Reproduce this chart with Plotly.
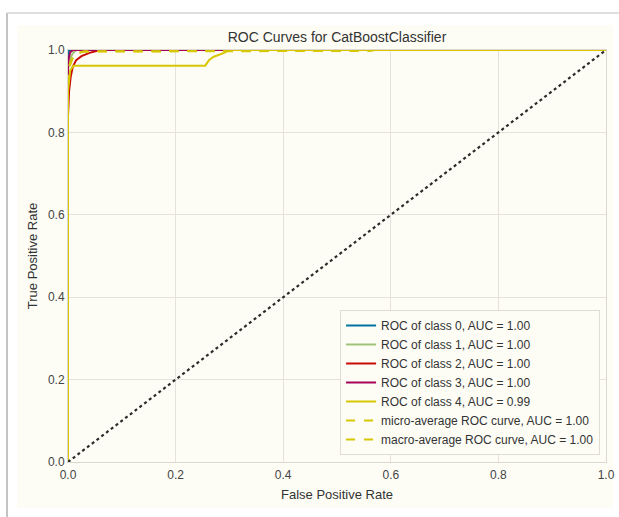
import plotly.graph_objects as go

# ---- data ----
fpr_class0 = [0.0, 0.0, 0.002, 1.0]
tpr_class0 = [0.0, 0.99, 1.0, 1.0]

fpr_class1 = [0.0, 0.0, 0.003, 0.008, 0.015, 1.0]
tpr_class1 = [0.0, 0.95, 0.975, 0.99, 1.0, 1.0]

fpr_class2 = [0.0, 0.0, 0.002, 0.005, 0.009, 0.015, 0.025, 0.04, 0.06, 1.0]
tpr_class2 = [0.0, 0.84, 0.90, 0.935, 0.96, 0.975, 0.985, 0.993, 1.0, 1.0]

fpr_class3 = [0.0, 0.0, 0.004, 0.01, 1.0]
tpr_class3 = [0.0, 0.97, 0.995, 1.0, 1.0]

fpr_class4 = [0.0, 0.0, 0.004, 0.01, 0.255, 0.262, 0.27, 0.29, 0.30, 1.0]
tpr_class4 = [0.0, 0.90, 0.95, 0.962, 0.962, 0.975, 0.983, 0.993, 1.0, 1.0]

fpr_micro = [0.0, 0.0, 0.003, 0.008, 0.015, 0.03, 0.56, 0.57, 1.0]
tpr_micro = [0.0, 0.92, 0.965, 0.982, 0.992, 0.997, 0.998, 1.0, 1.0]

fpr_macro = [0.0, 0.0, 0.003, 0.008, 0.015, 0.03, 0.56, 0.57, 1.0]
tpr_macro = [0.0, 0.90, 0.96, 0.978, 0.99, 0.996, 0.998, 1.0, 1.0]

diag_x = [0.0, 1.0]
diag_y = [0.0, 1.0]

labels = [
    "ROC of class 0, AUC = 1.00",
    "ROC of class 1, AUC = 1.00",
    "ROC of class 2, AUC = 1.00",
    "ROC of class 3, AUC = 1.00",
    "ROC of class 4, AUC = 0.99",
    "micro-average ROC curve, AUC = 1.00",
    "macro-average ROC curve, AUC = 1.00",
]
colors = ["#0272a2", "#9fc377", "#ca0b03", "#a50258", "#d7c703", "#d7c703", "#d7c703"]

tick_vals = [0.0, 0.2, 0.4, 0.6, 0.8, 1.0]
tick_text = ["0.0", "0.2", "0.4", "0.6", "0.8", "1.0"]

CREAM = "#fdfdf6"
FONT = "Liberation Sans, Arial, sans-serif"

fig = go.Figure()
series = [
    (fpr_class0, tpr_class0, "solid"),
    (fpr_class1, tpr_class1, "solid"),
    (fpr_class2, tpr_class2, "solid"),
    (fpr_class3, tpr_class3, "solid"),
    (fpr_class4, tpr_class4, "solid"),
    (fpr_micro, tpr_micro, "dash"),
    (fpr_macro, tpr_macro, "dash"),
]
for (xs, ys, dash), lab, col in zip(series, labels, colors):
    fig.add_trace(go.Scatter(x=xs, y=ys, mode="lines", name=lab,
                             line=dict(color=col, width=2, dash=dash)))

fig.add_trace(go.Scatter(x=diag_x, y=diag_y, mode="lines", showlegend=False,
                         line=dict(color="#2b2b2b", width=2.2, dash="dot")))

axis_common = dict(
    range=[0, 1], tickvals=tick_vals, ticktext=tick_text, automargin=False,
    showgrid=True, gridcolor="#e6e1da", gridwidth=1,
    zeroline=False, showline=True, linecolor="#dcd7cf", linewidth=1, mirror=True,
    ticks="", tickfont=dict(size=12, color="#444", family=FONT),
)

fig.update_layout(
    width=619, height=517, autosize=False,
    margin=dict(l=68, r=13, t=50, b=55),
    paper_bgcolor="white", plot_bgcolor=CREAM,
    font=dict(family=FONT, color="#333"),
    title=dict(text="ROC Curves for CatBoostClassifier", x=337 / 619, xanchor="center",
               y=1 - 37 / 517, yanchor="middle", font=dict(size=14, color="#333", family=FONT)),
    xaxis=dict(axis_common, ticklabelstandoff=2,
               title=dict(text="False Positive Rate", font=dict(size=13, color="#333"), standoff=8)),
    yaxis=dict(axis_common, title=dict(text="True Positive Rate", font=dict(size=13, color="#333"), standoff=7)),
    legend=dict(x=0.989, y=0.017, xanchor="right", yanchor="bottom",
                bgcolor=CREAM, bordercolor="#e0dbd3", borderwidth=1,
                font=dict(size=12, color="#333", family=FONT),
                tracegroupgap=0, itemwidth=30),
    showlegend=True,
)

# screenshot frame and cream figure area
def px_x(p):
    return (p - 68) / 538

def px_y(p):
    return (462 - p) / 412

fig.add_shape(type="rect", xref="paper", yref="paper",
              x0=px_x(17), x1=px_x(613), y0=px_y(508), y1=px_y(25),
              fillcolor=CREAM, line=dict(width=0), layer="below")
fig.add_shape(type="line", xref="paper", yref="paper",
              x0=px_x(7), x1=px_x(7), y0=px_y(13), y1=px_y(517),
              line=dict(color="#c4c4c4", width=2), layer="below")
fig.add_shape(type="line", xref="paper", yref="paper",
              x0=px_x(7), x1=px_x(619), y0=px_y(13), y1=px_y(13),
              line=dict(color="#d4d4d4", width=1.5), layer="below")

fig.write_html("out.html", config={"displayModeBar": False},
               post_script="document.body.style.margin='0px';document.body.style.overflow='hidden';")
